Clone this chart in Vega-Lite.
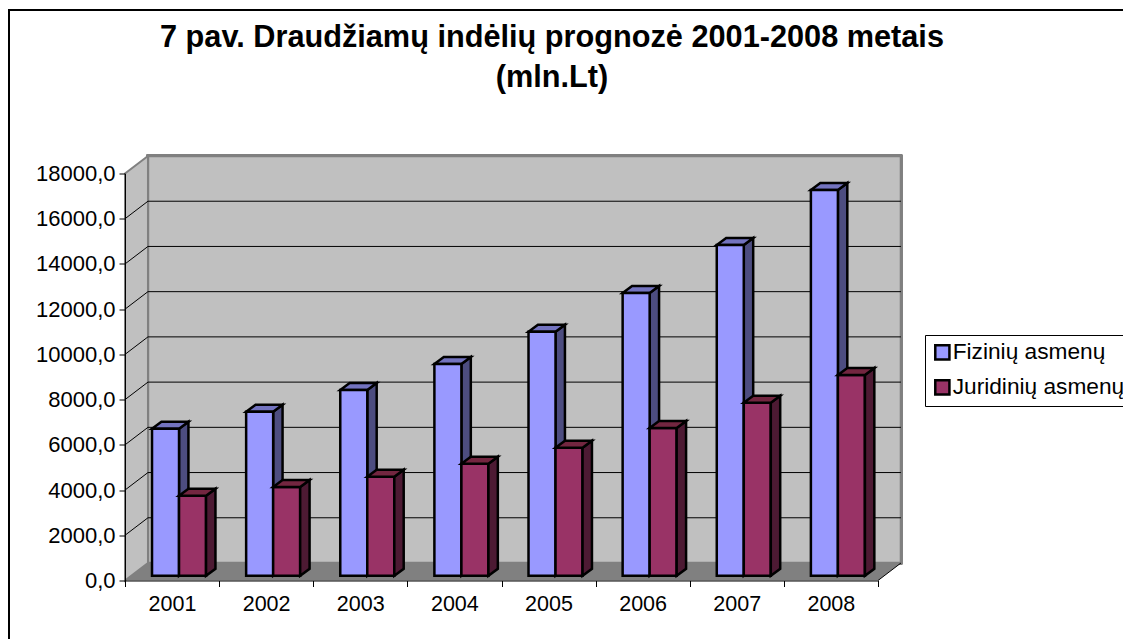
{
"$schema":"https://vega.github.io/schema/vega-lite/v6.json",
"autosize":{"type":"none"},
"width":753,"height":407,
"padding":{"left":125,"top":173.5,"right":245,"bottom":58.5},
"background":"white",
"config":{"view":{"stroke":null},"font":"Liberation Sans"},
"title":{"text":["7 pav. Draudžiamų indėlių prognozė 2001-2008 metais","(mln.Lt)"],"font":"Liberation Sans","fontSize":30.7,"fontWeight":"bold","color":"#000000","anchor":"middle","dx":50.5,"offset":-84,"lineHeight":40},
"datasets":{
"bars":[
{"year":2001,"series":"Fizinių asmenų","value":6500},{"year":2001,"series":"Juridinių asmenų","value":3540},
{"year":2002,"series":"Fizinių asmenų","value":7250},{"year":2002,"series":"Juridinių asmenų","value":3930},
{"year":2003,"series":"Fizinių asmenų","value":8220},{"year":2003,"series":"Juridinių asmenų","value":4380},
{"year":2004,"series":"Fizinių asmenų","value":9370},{"year":2004,"series":"Juridinių asmenų","value":4950},
{"year":2005,"series":"Fizinių asmenų","value":10790},{"year":2005,"series":"Juridinių asmenų","value":5660},
{"year":2006,"series":"Fizinių asmenų","value":12510},{"year":2006,"series":"Juridinių asmenų","value":6540},
{"year":2007,"series":"Fizinių asmenų","value":14630},{"year":2007,"series":"Juridinių asmenų","value":7650},
{"year":2008,"series":"Fizinių asmenų","value":17060},{"year":2008,"series":"Juridinių asmenų","value":8880}
],
"edges":[{"edge":0},{"edge":1}],
"grid":[{"v":2000},{"v":4000},{"v":6000},{"v":8000},{"v":10000},{"v":12000},{"v":14000},{"v":16000}]
},
"data":{"name":"bars"},
"encoding":{},
"layer":[
{"mark":{"type":"rect","fill":null,"stroke":"#000000","strokeWidth":1.5,"clip":false},
 "encoding":{"x":{"datum":1999.27,"type":"quantitative","scale":{"domain":[2000.5,2008.5],"nice":false,"zero":false},"axis":{"title":null}},"x2":{"datum":2015},"y":{"datum":25220,"type":"quantitative","scale":{"domain":[0,18000],"nice":false},"axis":{"title":null}},"y2":{"datum":-5000}}},
{"mark":{"type":"rect","fill":"#c0c0c0","stroke":"#808080","strokeWidth":2.5},
 "encoding":{"x":{"datum":2000.744,"type":"quantitative"},"x2":{"datum":2008.744},"y":{"datum":18774,"type":"quantitative"},"y2":{"datum":774}}},
{"data":{"name":"edges"},
 "transform":[{"calculate":"2000.5+0.244*datum.edge","as":"ex"},{"calculate":"18000+774*datum.edge","as":"et"},{"calculate":"774*datum.edge","as":"eb"}],
 "mark":{"type":"area","fill":"#c0c0c0","stroke":"#808080","strokeWidth":2},
 "encoding":{"x":{"field":"ex","type":"quantitative"},"y":{"field":"et","type":"quantitative","stack":null},"y2":{"field":"eb"}}},
{"data":{"name":"edges"},
 "transform":[{"calculate":"2000.5+0.244*datum.edge","as":"ex"},{"calculate":"2008.5+0.244*datum.edge","as":"ex2"},{"calculate":"774*datum.edge","as":"ey"}],
 "mark":{"type":"area","orient":"horizontal","fill":"#808080"},
 "encoding":{"y":{"field":"ey","type":"quantitative"},"x":{"field":"ex","type":"quantitative","stack":null},"x2":{"field":"ex2"}}},
{"data":{"name":"edges"},
 "transform":[{"calculate":"2008.5+0.244*datum.edge","as":"ex"},{"calculate":"774*datum.edge","as":"ey"}],
 "mark":{"type":"line","color":"#000000","strokeWidth":1},
 "encoding":{"x":{"field":"ex","type":"quantitative"},"y":{"field":"ey","type":"quantitative"}}},
{"data":{"name":"grid"},
 "transform":[{"calculate":"datum.v+774","as":"vb"}],
 "mark":{"type":"rule","color":"#000000","strokeWidth":1},
 "encoding":{"x":{"datum":2000.744,"type":"quantitative"},"x2":{"datum":2008.744},"y":{"field":"vb","type":"quantitative"}}},
{"data":{"name":"grid"},
 "transform":[{"calculate":"[0,1]","as":"edge"},{"flatten":["edge"]},{"calculate":"2000.5+0.244*datum.edge","as":"ex"},{"calculate":"datum.v+774*datum.edge","as":"ey"}],
 "mark":{"type":"line","color":"#000000","strokeWidth":1},
 "encoding":{"x":{"field":"ex","type":"quantitative"},"y":{"field":"ey","type":"quantitative"},"detail":{"field":"v"}}},
{"transform":[{"filter":"datum.series=='Fizinių asmenų'"},{"calculate":"[0,1]","as":"edge"},{"flatten":["edge"]},{"calculate":"datum.year+0.074+0.1*datum.edge","as":"ex"},{"calculate":"datum.value+208+310*datum.edge","as":"et"},{"calculate":"208+310*datum.edge","as":"eb"}],
 "mark":{"type":"area","fill":"#4d4d80","stroke":"#000000","strokeWidth":2.5},
 "encoding":{"x":{"field":"ex","type":"quantitative"},"y":{"field":"et","type":"quantitative","stack":null},"y2":{"field":"eb"},"detail":{"field":"year"}}},
{"transform":[{"filter":"datum.series=='Fizinių asmenų'"},{"calculate":"[0,1]","as":"edge"},{"flatten":["edge"]},{"calculate":"datum.year-0.213+0.1*datum.edge","as":"ex"},{"calculate":"datum.year+0.074+0.1*datum.edge","as":"ex2"},{"calculate":"datum.value+208+310*datum.edge","as":"ey"}],
 "mark":{"type":"area","orient":"horizontal","fill":"#7373bf","stroke":"#000000","strokeWidth":2.5},
 "encoding":{"y":{"field":"ey","type":"quantitative"},"x":{"field":"ex","type":"quantitative","stack":null},"x2":{"field":"ex2"},"detail":{"field":"year"}}},
{"transform":[{"calculate":"datum.year+(datum.series=='Fizinių asmenų'?-0.213:0.074)","as":"bx"},{"calculate":"datum.bx+0.287","as":"bx2"},{"calculate":"datum.value+208","as":"bt"},{"calculate":"208","as":"bb"}],
 "mark":{"type":"rect","stroke":"#000000","strokeWidth":2.5,"opacity":1},
 "encoding":{
  "x":{"field":"bx","type":"quantitative","axis":{"title":null,"values":[2000.5,2001.5,2002.5,2003.5,2004.5,2005.5,2006.5,2007.5,2008.5],"labelExpr":"datum.value<2008?format(datum.value+0.5,'d'):''","labelOffset":47,"labelFont":"Liberation Sans","labelFontSize":21.5,"labelColor":"#000000","labelPadding":7,"labelOverlap":false,"labelFlush":false,"labelBound":false,"domainColor":"#000000","domainWidth":1,"tickColor":"#000000","tickSize":6,"grid":false,"zindex":1}},
  "x2":{"field":"bx2"},
  "y":{"field":"bt","type":"quantitative","stack":null,"axis":{"title":null,"values":[0,2000,4000,6000,8000,10000,12000,14000,16000,18000],"labelExpr":"replace(format(datum.value,'.1f'),'.',',')","labelFont":"Liberation Sans","labelFontSize":22,"labelColor":"#000000","labelPadding":4,"labelOverlap":false,"labelBound":false,"labelFlush":false,"domainColor":"#000000","domainWidth":1,"tickColor":"#000000","tickSize":6,"grid":false,"zindex":1}},
  "y2":{"field":"bb"},
  "color":{"field":"series","type":"nominal","scale":{"domain":["Fizinių asmenų","Juridinių asmenų"],"range":["#9999ff","#993366"]},
   "legend":{"title":null,"orient":"none","legendX":800,"legendY":161.5,"fillColor":"#ffffff","strokeColor":"#000000","padding":6,"labelFont":"Liberation Sans","labelFontSize":22.7,"labelColor":"#000000","labelLimit":300,"symbolType":"square","symbolSize":200,"symbolStrokeColor":"#000000","symbolStrokeWidth":2.5,"rowPadding":10,"labelOffset":-1}}
 }},
{"transform":[{"filter":"datum.series=='Juridinių asmenų'"},{"calculate":"[0,1]","as":"edge"},{"flatten":["edge"]},{"calculate":"datum.year+0.361+0.1*datum.edge","as":"ex"},{"calculate":"datum.value+208+310*datum.edge","as":"et"},{"calculate":"208+310*datum.edge","as":"eb"}],
 "mark":{"type":"area","fill":"#4d1a33","stroke":"#000000","strokeWidth":2.5},
 "encoding":{"x":{"field":"ex","type":"quantitative"},"y":{"field":"et","type":"quantitative","stack":null},"y2":{"field":"eb"},"detail":{"field":"year"}}},
{"transform":[{"filter":"datum.series=='Juridinių asmenų'"},{"calculate":"[0,1]","as":"edge"},{"flatten":["edge"]},{"calculate":"datum.year+0.074+0.1*datum.edge","as":"ex"},{"calculate":"datum.year+0.361+0.1*datum.edge","as":"ex2"},{"calculate":"datum.value+208+310*datum.edge","as":"ey"}],
 "mark":{"type":"area","orient":"horizontal","fill":"#732640","stroke":"#000000","strokeWidth":2.5},
 "encoding":{"y":{"field":"ey","type":"quantitative"},"x":{"field":"ex","type":"quantitative","stack":null},"x2":{"field":"ex2"},"detail":{"field":"year"}}}
]
}
